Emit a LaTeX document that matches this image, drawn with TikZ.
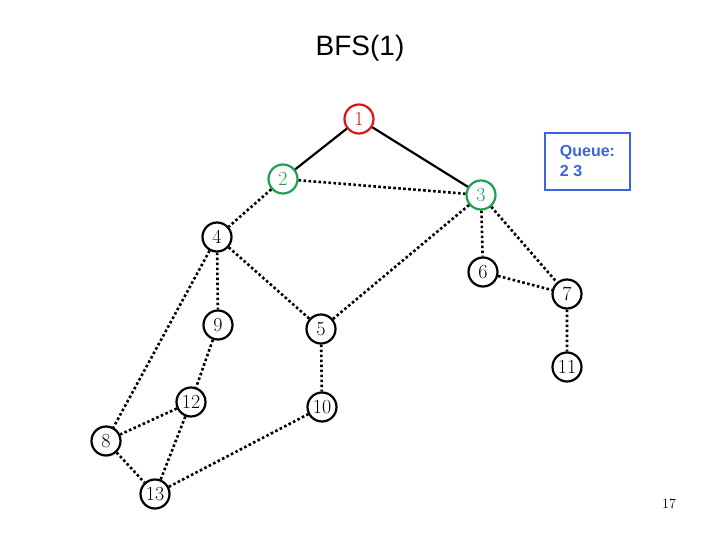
\documentclass[tikz,border=0pt]{standalone}
\usepackage{fontspec}
\setsansfont{Liberation Sans}
\begin{document}
\begin{tikzpicture}[x=1pt,y=-1pt,
  vtx/.style={circle,draw=black,line width=2.2pt,minimum size=29pt,inner sep=0pt,font=\fontsize{20}{20}\selectfont},
  red/.style={draw={rgb,255:red,220;green,20;blue,30},text={rgb,255:red,200;green,20;blue,30}},
  grn/.style={draw={rgb,255:red,30;green,160;blue,80},text={rgb,255:red,30;green,160;blue,80}},
  tree/.style={line width=2.2pt},
  dot/.style={line width=2.6pt,dash pattern=on 2.6pt off 2.4pt}]
\useasboundingbox (0,0) rectangle (720,540);
\node[font=\sffamily\fontsize{28}{30}\selectfont] (title) at (360,48) {BFS(1)};
\node[vtx,red] (n1) at (359,119) {1};
\node[vtx,grn] (n2) at (283,179) {2};
\node[vtx,grn] (n3) at (481,195) {3};
\node[vtx] (n4) at (217,237) {4};
\node[vtx] (n6) at (483,272) {6};
\node[vtx] (n7) at (567,294) {7};
\node[vtx] (n9) at (218,325) {9};
\node[vtx] (n5) at (321,329) {5};
\node[vtx] (n11) at (567,367) {11};
\node[vtx] (n12) at (191,402) {12};
\node[vtx] (n10) at (322,407) {10};
\node[vtx] (n8) at (106,441) {8};
\node[vtx] (n13) at (155,494) {13};
\node[draw={rgb,255:red,60;green,100;blue,220},text={rgb,255:red,60;green,100;blue,220},line width=2pt,
  minimum width=85pt,minimum height=57pt,align=left,font=\sffamily\bfseries\fontsize{16}{20}\selectfont] (q) at (587.5,161.5) {Queue:\\2 3};
\node[font=\fontsize{14}{14}\selectfont] (pg) at (669,504) {17};
\draw[tree] (n1)--(n2) (n1)--(n3);
\draw[dot] (n2)--(n3) (n2)--(n4) (n3)--(n5) (n3)--(n6) (n3)--(n7) (n4)--(n9) (n4)--(n5)
  (n4)--(n8) (n6)--(n7) (n7)--(n11) (n9)--(n12) (n5)--(n10) (n12)--(n8) (n12)--(n13)
  (n8)--(n13) (n13)--(n10);
\end{tikzpicture}
\end{document}
